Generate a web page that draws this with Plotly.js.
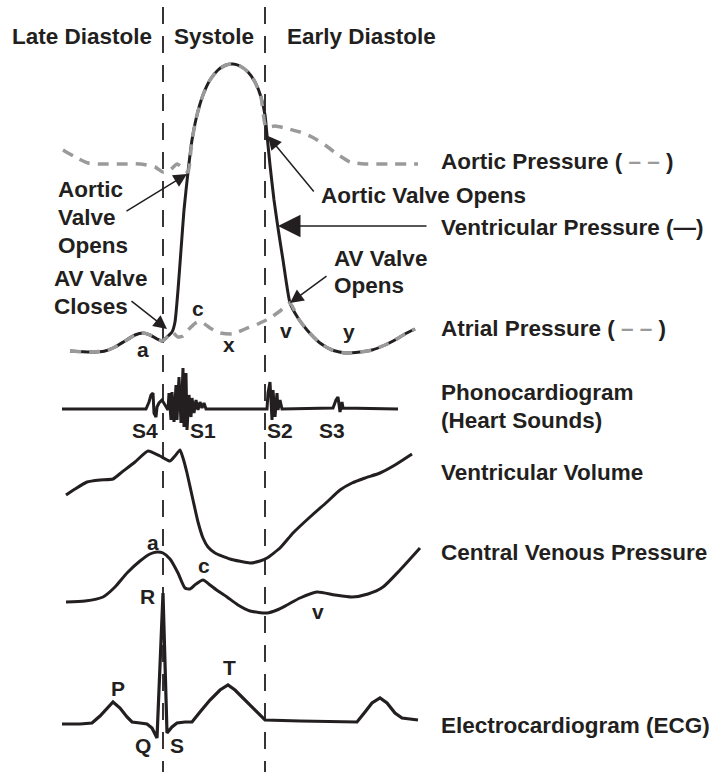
<!DOCTYPE html>
<html>
<head>
<meta charset="utf-8">
<script src="https://cdn.plot.ly/plotly-3.0.1.min.js"></script>
<style>html,body{margin:0;padding:0;background:#fff;}#chart{width:721px;height:772px;}</style>
</head>
<body>
<div id="chart"></div>
<script>
// ---- Data (in picture units) ----
const ventPressureX = [70,90,105,115,125,135,143,150,157,162,167,172,175,178,181,184,188,192,197,203,210,218,226,233,240,248,255,261,265,267,270,274,278,283,290,298,307,320,332,345,360,372,385,395,405,415];
const ventPressureY = [351,352,351,347,341,335,333,335,339,341,337,332,322,290,250,210,172,140,115,95,80,70,65,64,66,72,82,97,115,135,165,200,228,260,303,318,330,343,350,353,352,350,345,340,334,329];

const aorticX = [63,75,88,100,120,140,155,163,170,177,183,188,192,197,203,210,218,226,233,240,248,255,261,266,275,285,300,312,325,337,350,365,390,418];
const aorticY = [150,157,163,164,164,164,167,172,170,164,168,172,140,115,95,80,70,65,64,66,72,82,97,127,126,128,132,137,145,154,162,164,164,164];

const atrialX = [70,90,105,115,125,135,143,150,157,162,167,172,178,183,190,197,203,210,220,233,245,258,270,280,290,298,307,320,332,345,360,372,385,395,405,415];
const atrialY = [351,352,351,347,341,335,333,335,339,341,337,332,337,336,328,322,323,328,333,334,329,324,318,311,303,318,330,343,350,353,352,350,345,340,334,329];

const phonoX = [62,146,149,151,153,154,156,157,159,162,165,168,169,171,172,174,176,177,179,181,183,184,186,187,189,191,192,194,196,198,200,202,204,206,267,268,270,272,273,275,277,278,280,282,333,336,338,340,342,343,398];
const phonoY = [409,409,402,395,393,413,417,407,403,400,405,410,393,420,392,422,385,420,377,423,368,427,373,430,395,417,398,413,400,410,402,408,403,409,409,393,382,420,390,417,393,410,400,409,408,400,397,412,402,408,409];

const volumeX = [66,75,87,100,113,122,135,148,160,170,175,180,183,187,193,198,203,208,215,230,250,260,267,280,293,310,327,340,352,365,380,395,412];
const volumeY = [495,489,482,480,479,472,462,451,456,461,456,450,458,473,500,522,538,547,553,559,563,561,558,548,533,517,502,490,483,478,473,465,454];

const cvpX = [66,85,103,115,127,140,150,157,163,170,178,185,190,196,203,210,218,227,238,250,267,277,287,300,317,335,352,368,383,400,420];
const cvpY = [602,601,597,587,573,561,554,552,553,559,573,588,589,584,580,585,591,597,605,611,613,610,605,598,592,595,597,594,587,570,548];

const ecgX = [62,80,92,100,113,120,127,132,140,147,152,157,163,167,172,177,185,192,200,210,220,228,235,245,255,265,300,357,365,372,380,387,395,402,418];
const ecgY = [724,724,723,716,702,708,717,722,723,724,728,738,593,733,727,723,722,722,712,700,690,685,690,700,711,720,721,722,712,703,698,703,713,718,720];

const phaseLabels = ["Late Diastole", "Systole", "Early Diastole"];
const traceLabels = ["Aortic Pressure (<span style='color:#9a9a9a'> – – </span>)",
  "Ventricular Pressure (—)",
  "Atrial Pressure (<span style='color:#9a9a9a'> – – </span>)",
  "Phonocardiogram", "(Heart Sounds)", "Ventricular Volume",
  "Central Venous Pressure", "Electrocardiogram (ECG)"];
const waveLabels = ["a","c","x","v","y","S4","S1","S2","S3","a","c","v","R","P","Q","S","T"];

// ---- Styling / layout ----
const INK = '#231f20';
const GRAY = '#9a9a9a';
const FONT = {family: 'Liberation Sans, Arial, sans-serif', size: 22.5, color: INK};
const SMALL = {family: 'Liberation Sans, Arial, sans-serif', size: 21, color: INK};

const traces = [
  {x: ventPressureX, y: ventPressureY, mode: 'lines', line: {color: INK, width: 3, shape: 'spline', smoothing: 0.5}},
  {x: atrialX, y: atrialY, mode: 'lines', line: {color: GRAY, width: 3.5, dash: '11px,8px', shape: 'spline', smoothing: 0.5}},
  {x: aorticX, y: aorticY, mode: 'lines', line: {color: GRAY, width: 3.5, dash: '11px,8px', shape: 'spline', smoothing: 0.5}},
  {x: phonoX, y: phonoY, mode: 'lines', line: {color: INK, width: 3}},
  {x: volumeX, y: volumeY, mode: 'lines', line: {color: INK, width: 3, shape: 'spline', smoothing: 0.5}},
  {x: cvpX, y: cvpY, mode: 'lines', line: {color: INK, width: 3, shape: 'spline', smoothing: 0.6}},
  {x: ecgX, y: ecgY, mode: 'lines', line: {color: INK, width: 3.2}}
];
traces.forEach(t => { t.hoverinfo = 'skip'; t.showlegend = false; });

function label(text, x, y, xanchor, font) {
  return {text: '<b>' + text + '</b>', x: x, y: y, xref: 'x', yref: 'y',
    xanchor: xanchor || 'center', yanchor: 'middle', showarrow: false, font: font || FONT};
}
function arrow(hx, hy, tx, ty, size) {
  return {text: '', x: hx, y: hy, ax: tx, ay: ty, xref: 'x', yref: 'y', axref: 'x', ayref: 'y',
    showarrow: true, arrowhead: 2, arrowsize: size || 1.8, arrowwidth: 1.5, arrowcolor: INK, standoff: 0};
}

const annotations = [
  label(phaseLabels[0], 82, 36), label(phaseLabels[1], 214, 36), label(phaseLabels[2], 361, 36),
  label(traceLabels[0], 439, 161, 'left'),
  label(traceLabels[1], 439, 227, 'left'),
  label(traceLabels[2], 439, 328, 'left'),
  label(traceLabels[3], 439, 392, 'left'),
  label(traceLabels[4], 439, 420, 'left'),
  label(traceLabels[5], 439, 472, 'left'),
  label(traceLabels[6], 439, 552, 'left'),
  label(traceLabels[7], 439, 725, 'left'),
  label('Aortic', 56, 189, 'left'), label('Valve', 56, 217, 'left'), label('Opens', 56, 245, 'left'),
  label('AV Valve', 52, 278, 'left'), label('Closes', 52, 306, 'left'),
  label('Aortic Valve Opens', 319, 195, 'left'),
  label('AV Valve', 332, 258, 'left'), label('Opens', 332, 285, 'left'),
  label(waveLabels[0], 143, 349, 'center', SMALL), label(waveLabels[1], 198, 308, 'center', SMALL), label(waveLabels[2], 229, 344, 'center', SMALL),
  label(waveLabels[3], 286, 330, 'center', SMALL), label(waveLabels[4], 349, 331, 'center', SMALL),
  label(waveLabels[5], 145, 430, 'center', SMALL), label(waveLabels[6], 203, 430, 'center', SMALL), label(waveLabels[7], 280, 430, 'center', SMALL), label(waveLabels[8], 332, 430, 'center', SMALL),
  label(waveLabels[9], 153, 542, 'center', SMALL), label(waveLabels[10], 204, 565, 'center', SMALL), label(waveLabels[11], 318, 611, 'center', SMALL),
  label(waveLabels[12], 147, 596, 'center', SMALL), label(waveLabels[13], 118, 688, 'center', SMALL), label(waveLabels[14], 143, 745, 'center', SMALL),
  label(waveLabels[15], 177, 745, 'center', SMALL), label(waveLabels[16], 229, 667, 'center', SMALL),
  arrow(187, 174, 125, 212),
  arrow(167, 329, 130, 300),
  arrow(268, 136, 315, 193),
  arrow(278, 226, 428, 226, 3),
  arrow(290, 303, 328, 275)
];

const dividerShapes = [163, 265].map(xv => ({type: 'line', xref: 'x', yref: 'y', x0: xv, x1: xv, y0: 7, y1: 772,
  line: {color: INK, width: 1.8, dash: '17px,12px'}, layer: 'below'}));

const layout = {
  width: 721, height: 772, margin: {l: 0, r: 0, t: 0, b: 0},
  paper_bgcolor: '#fff', plot_bgcolor: '#fff',
  xaxis: {range: [0, 721], visible: false, fixedrange: true},
  yaxis: {range: [772, 0], visible: false, fixedrange: true},
  annotations: annotations, shapes: dividerShapes, showlegend: false
};

Plotly.newPlot('chart', traces, layout, {staticPlot: true, displayModeBar: false});
</script>
</body>
</html>
